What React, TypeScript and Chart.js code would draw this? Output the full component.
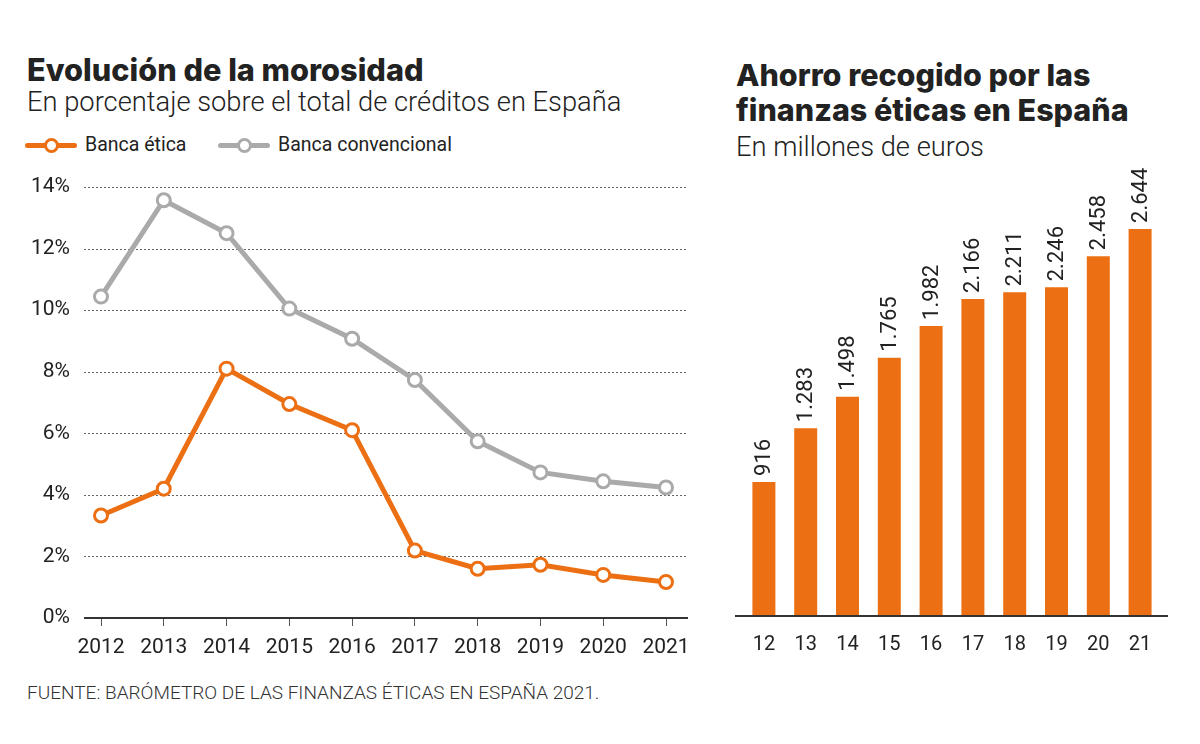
import React, { useEffect, useRef } from 'react';
import { Chart, registerables } from 'chart.js';

Chart.register(...registerables);

// ---- Data ----
const years = ['2012', '2013', '2014', '2015', '2016', '2017', '2018', '2019', '2020', '2021'];
const eticaValues = [3.33, 4.2, 8.1, 6.95, 6.1, 2.19, 1.6, 1.73, 1.4, 1.17];
const convencionalValues = [10.44, 13.57, 12.5, 10.05, 9.07, 7.73, 5.74, 4.73, 4.44, 4.24];
const yTickValues = [0, 2, 4, 6, 8, 10, 12, 14];

const barCategories = ['12', '13', '14', '15', '16', '17', '18', '19', '20', '21'];
const ahorroValues = [916, 1283, 1498, 1765, 1982, 2166, 2211, 2246, 2458, 2644];

const ORANGE = '#ec7013';
const GRAY = '#aaaaaa';
const TEXT = '#222222';
const FONT = 'Roboto, "Liberation Sans", sans-serif';
const TITLE = 'Inter, Roboto, sans-serif';

if (typeof document !== 'undefined') {
  document.body.style.margin = '0';
  document.body.style.background = '#ffffff';
}

const fmt = (v: number) => {
  const s = String(v);
  return s.length > 3 ? s.slice(0, s.length - 3) + '.' + s.slice(s.length - 3) : s;
};

const lineGridPlugin = {
  id: 'lineGrid',
  beforeDatasetsDraw(chart: any) {
    const { ctx, chartArea, scales } = chart;
    const y = scales.y;
    const l = chartArea.left - 17;
    const r = chartArea.right + 22;
    ctx.save();
    yTickValues.forEach((v) => {
      const py = Math.round(y.getPixelForValue(v));
      ctx.beginPath();
      if (v === 0) {
        ctx.setLineDash([]);
        ctx.strokeStyle = '#333333';
        ctx.lineWidth = 2;
        ctx.moveTo(l, py);
        ctx.lineTo(r, py);
      } else {
        ctx.setLineDash([2, 2]);
        ctx.strokeStyle = '#666666';
        ctx.lineWidth = 1;
        ctx.moveTo(l, py + 0.5);
        ctx.lineTo(r, py + 0.5);
      }
      ctx.stroke();
    });
    ctx.restore();
  },
};

const barAxisPlugin = {
  id: 'barAxis',
  afterDatasetsDraw(chart: any) {
    const { ctx, chartArea } = chart;
    ctx.save();
    ctx.beginPath();
    ctx.strokeStyle = '#333333';
    ctx.lineWidth = 2;
    ctx.moveTo(chartArea.left - 8, Math.round(chartArea.bottom));
    ctx.lineTo(chartArea.right + 7, Math.round(chartArea.bottom));
    ctx.stroke();
    // value labels
    const meta = chart.getDatasetMeta(0);
    ctx.fillStyle = TEXT;
    ctx.font = `22px ${FONT}`;
    ctx.textAlign = 'left';
    ctx.textBaseline = 'middle';
    meta.data.forEach((bar: any, i: number) => {
      ctx.save();
      ctx.translate(bar.x + 1, bar.y - 6);
      ctx.rotate(-Math.PI / 2);
      ctx.fillText(fmt(ahorroValues[i]), 0, 0);
      ctx.restore();
    });
    ctx.restore();
  },
};

function LineChart() {
  const ref = useRef<HTMLCanvasElement>(null);
  useEffect(() => {
    const chart = new Chart(ref.current as HTMLCanvasElement, {
      type: 'line',
      data: {
        labels: years,
        datasets: [
          {
            label: 'Banca convencional',
            data: convencionalValues,
            borderColor: GRAY,
            backgroundColor: '#ffffff',
            borderWidth: 5,
            pointRadius: 6.5,
            pointBorderWidth: 3,
            pointBackgroundColor: '#ffffff',
            pointBorderColor: GRAY,
            tension: 0,
          },
          {
            label: 'Banca ética',
            data: eticaValues,
            borderColor: ORANGE,
            backgroundColor: '#ffffff',
            borderWidth: 5,
            pointRadius: 6.5,
            pointBorderWidth: 3,
            pointBackgroundColor: '#ffffff',
            pointBorderColor: ORANGE,
            tension: 0,
          },
        ],
      },
      options: {
        animation: false,
        responsive: false,
        maintainAspectRatio: false,
        layout: { padding: { top: 27, right: 34, left: 0, bottom: 0 } },
        plugins: { legend: { display: false }, tooltip: { enabled: false } },
        scales: {
          x: {
            offset: false,
            grid: { display: true, drawOnChartArea: false, drawTicks: true, tickLength: 8, tickColor: '#555555', tickWidth: 1 },
            border: { display: false },
            ticks: { color: TEXT, font: { family: FONT, size: 21 }, padding: 9, maxRotation: 0, autoSkip: false },
            afterFit: (s: any) => { s.height = 62; },
          },
          y: {
            min: 0,
            max: 14,
            grid: { display: false, drawTicks: true, tickLength: 31 },
            border: { display: false },
            ticks: {
              stepSize: 2,
              color: TEXT,
              font: { family: FONT, size: 21 },
              padding: 0,
              callback: (v: any) => v + '%',
            },
            afterFit: (s: any) => { s.width = 101; },
          },
        },
      },
      plugins: [lineGridPlugin],
    });
    return () => chart.destroy();
  }, []);
  return <canvas ref={ref} width={700} height={520} style={{ position: 'absolute', left: 0, top: 160, width: 700, height: 520 }} />;
}

function BarChart() {
  const ref = useRef<HTMLCanvasElement>(null);
  useEffect(() => {
    const chart = new Chart(ref.current as HTMLCanvasElement, {
      type: 'bar',
      data: {
        labels: barCategories,
        datasets: [
          {
            label: 'Ahorro',
            data: ahorroValues,
            backgroundColor: ORANGE,
            borderWidth: 0,
            barPercentage: 0.55,
            categoryPercentage: 1,
          },
        ],
      },
      options: {
        animation: false,
        responsive: false,
        maintainAspectRatio: false,
        layout: { padding: { top: 10, right: 39, left: 43, bottom: 0 } },
        plugins: { legend: { display: false }, tooltip: { enabled: false } },
        scales: {
          x: {
            grid: { display: false, drawTicks: false },
            border: { display: false },
            ticks: { color: TEXT, font: { family: FONT, size: 20 }, padding: 17, maxRotation: 0, autoSkip: false },
            afterFit: (s: any) => { s.height = 64; },
          },
          y: {
            display: false,
            min: 0,
            max: 3047,
          },
        },
      },
      plugins: [barAxisPlugin],
    });
    return () => chart.destroy();
  }, []);
  return <canvas ref={ref} width={500} height={520} style={{ position: 'absolute', left: 700, top: 160, width: 500, height: 520 }} />;
}

function LegendItem({ color, label, left }: { color: string; label: string; left: number }) {
  return (
    <div style={{ position: 'absolute', left, top: 134, height: 22, width: 260 }}>
      <div style={{ position: 'absolute', left: 0, top: 9, width: 52, height: 5, background: color, borderRadius: 3 }} />
      <div
        style={{
          position: 'absolute',
          left: 19,
          top: 4,
          width: 9,
          height: 9,
          borderRadius: '50%',
          border: `3px solid ${color}`,
          background: '#fff',
        }}
      />
      <div style={{ position: 'absolute', left: 60, top: 0, fontFamily: FONT, fontSize: 19.5, color: TEXT, lineHeight: '22px', whiteSpace: 'nowrap' }}>
        {label}
      </div>
    </div>
  );
}

export default function App() {
  const text = (style: React.CSSProperties, content: string) => (
    <div style={{ position: 'absolute', whiteSpace: 'nowrap', fontFamily: FONT, color: TEXT, lineHeight: 1, ...style }}>{content}</div>
  );
  return (
    <div style={{ position: 'relative', width: 1200, height: 744, background: '#fff', overflow: 'hidden' }}>
      {text({ left: 27, top: 55, fontSize: 30.7, fontWeight: 800, fontFamily: TITLE }, 'Evolución de la morosidad')}
      {text({ left: 27, top: 89, fontSize: 27.3, fontWeight: 300 }, 'En porcentaje sobre el total de créditos en España')}
      <LegendItem color={ORANGE} label="Banca ética" left={25} />
      <LegendItem color={GRAY} label="Banca convencional" left={218} />
      <LineChart />
      {text({ left: 27, top: 683, fontSize: 19, fontWeight: 300, color: '#333' }, 'FUENTE: BARÓMETRO DE LAS FINANZAS ÉTICAS EN ESPAÑA 2021.')}
      {text({ left: 736, top: 60, fontSize: 30.5, fontWeight: 800, fontFamily: TITLE }, 'Ahorro recogido por las')}
      {text({ left: 736, top: 95, fontSize: 30.5, fontWeight: 800, fontFamily: TITLE }, 'finanzas éticas en España')}
      {text({ left: 736, top: 134, fontSize: 27.3, fontWeight: 300 }, 'En millones de euros')}
      <BarChart />
    </div>
  );
}
